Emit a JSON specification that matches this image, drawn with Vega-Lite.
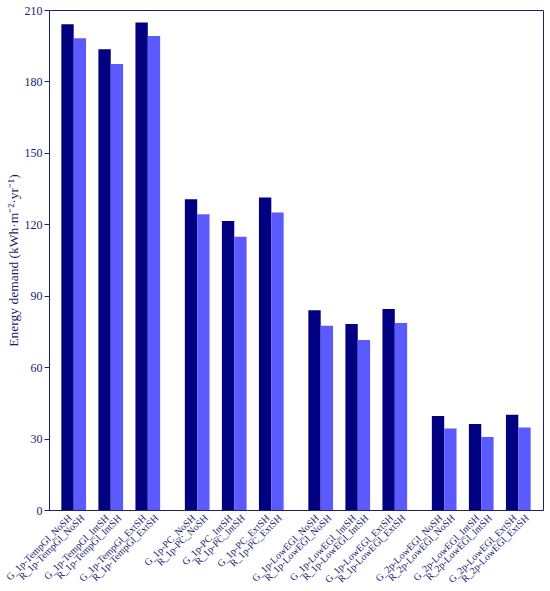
{
  "$schema": "https://vega.github.io/schema/vega-lite/v6.json",
  "autosize": "none",
  "padding": {"left": 49, "top": 10, "right": 7, "bottom": 81},
  "width": 494,
  "height": 500,
  "background": "white",
  "data": {
    "values": [
      {"case": "G_1p-TempGl_NoSH", "model": "G", "demand": 204.0},
      {"case": "R_1p-TempGl_NoSH", "model": "R", "demand": 198.1},
      {"case": "G_1p-TempGl_IntSH", "model": "G", "demand": 193.5},
      {"case": "R_1p-TempGl_IntSH", "model": "R", "demand": 187.3},
      {"case": "G_1p-TempGl_ExtSH", "model": "G", "demand": 204.8},
      {"case": "R_1p-TempGl_ExtSH", "model": "R", "demand": 199.1},
      {"case": "G_1p-PC_NoSH", "model": "G", "demand": 130.5},
      {"case": "R_1p-PC_NoSH", "model": "R", "demand": 124.2},
      {"case": "G_1p-PC_IntSH", "model": "G", "demand": 121.4},
      {"case": "R_1p-PC_IntSH", "model": "R", "demand": 114.8},
      {"case": "G_1p-PC_ExtSH", "model": "G", "demand": 131.3},
      {"case": "R_1p-PC_ExtSH", "model": "R", "demand": 125.0},
      {"case": "G_1p-LowEGl_NoSH", "model": "G", "demand": 83.9},
      {"case": "R_1p-LowEGl_NoSH", "model": "R", "demand": 77.4},
      {"case": "G_1p-LowEGl_IntSH", "model": "G", "demand": 78.1},
      {"case": "R_1p-LowEGl_IntSH", "model": "R", "demand": 71.4},
      {"case": "G_1p-LowEGl_ExtSH", "model": "G", "demand": 84.4},
      {"case": "R_1p-LowEGl_ExtSH", "model": "R", "demand": 78.5},
      {"case": "G_2p-LowEGl_NoSH", "model": "G", "demand": 39.5},
      {"case": "R_2p-LowEGl_NoSH", "model": "R", "demand": 34.2},
      {"case": "G_2p-LowEGl_IntSH", "model": "G", "demand": 36.1},
      {"case": "R_2p-LowEGl_IntSH", "model": "R", "demand": 30.7},
      {"case": "G_2p-LowEGl_ExtSH", "model": "G", "demand": 40.0},
      {"case": "R_2p-LowEGl_ExtSH", "model": "R", "demand": 34.6}
    ]
  },
  "mark": {"type": "bar"},
  "encoding": {
    "x": {
      "field": "case",
      "type": "nominal",
      "scale": {
        "domain": [
          "G_1p-TempGl_NoSH", "R_1p-TempGl_NoSH", "~1",
          "G_1p-TempGl_IntSH", "R_1p-TempGl_IntSH", "~2",
          "G_1p-TempGl_ExtSH", "R_1p-TempGl_ExtSH", "~3", "~4",
          "G_1p-PC_NoSH", "R_1p-PC_NoSH", "~5",
          "G_1p-PC_IntSH", "R_1p-PC_IntSH", "~6",
          "G_1p-PC_ExtSH", "R_1p-PC_ExtSH", "~7", "~8",
          "G_1p-LowEGl_NoSH", "R_1p-LowEGl_NoSH", "~9",
          "G_1p-LowEGl_IntSH", "R_1p-LowEGl_IntSH", "~10",
          "G_1p-LowEGl_ExtSH", "R_1p-LowEGl_ExtSH", "~11", "~12",
          "G_2p-LowEGl_NoSH", "R_2p-LowEGl_NoSH", "~13",
          "G_2p-LowEGl_IntSH", "R_2p-LowEGl_IntSH", "~14",
          "G_2p-LowEGl_ExtSH", "R_2p-LowEGl_ExtSH"
        ],
        "paddingInner": 0,
        "paddingOuter": 1
      },
      "axis": {
        "title": null,
        "ticks": false,
        "labelAngle": -45,
        "labelAlign": "right",
        "labelBaseline": "middle",
        "labelPadding": 6,
        "labelOffset": 3,
        "labelOverlap": false,
        "labelFontSize": 10,
        "labelExpr": "substring(datum.value, 0, 1) == '~' ? '' : datum.value"
      }
    },
    "y": {
      "field": "demand",
      "type": "quantitative",
      "scale": {"domain": [0, 210], "nice": false},
      "axis": {
        "values": [0, 30, 60, 90, 120, 150, 180, 210],
        "title": "Energy demand (kWh·m⁻²·yr⁻¹)",
        "grid": false,
        "tickSize": 5,
        "labelPadding": 2,
        "labelFontSize": 12,
        "titleFontSize": 13.5,
        "titlePadding": 4
      }
    },
    "color": {
      "field": "model",
      "type": "nominal",
      "scale": {"domain": ["G", "R"], "range": ["#000080", "#5a5aff"]},
      "legend": null
    }
  },
  "config": {
    "view": {"stroke": "#1f1f70", "strokeWidth": 1},
    "axis": {
      "domainColor": "#1f1f70",
      "tickColor": "#1f1f70",
      "labelColor": "#1a1a70",
      "titleColor": "#1a1a70",
      "labelFont": "Liberation Serif",
      "titleFont": "Liberation Serif",
      "titleFontWeight": "normal"
    }
  }
}
